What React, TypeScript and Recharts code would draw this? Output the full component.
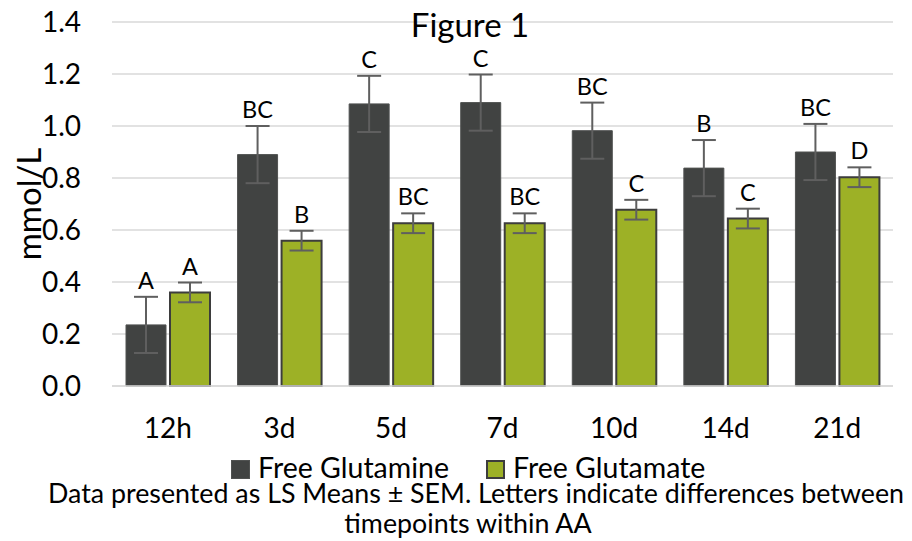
import React from "react";
import { BarChart, Bar, XAxis, YAxis, CartesianGrid, ErrorBar, LabelList } from "recharts";

const timepoints = ["12h", "3d", "5d", "7d", "10d", "14d", "21d"];
const glutamine = [0.235, 0.89, 1.085, 1.09, 0.982, 0.838, 0.9];
const glutamineSem = [0.108, 0.11, 0.108, 0.108, 0.108, 0.108, 0.108];
const glutamineLetters = ["A", "BC", "C", "C", "BC", "B", "BC"];
const glutamate = [0.36, 0.559, 0.626, 0.626, 0.678, 0.644, 0.803];
const glutamateSem = [0.038, 0.038, 0.038, 0.038, 0.038, 0.038, 0.038];
const glutamateLetters = ["A", "B", "BC", "BC", "C", "C", "D"];
const yTicks = [0, 0.2, 0.4, 0.6, 0.8, 1.0, 1.2, 1.4];

const FONT = "Lato, 'Open Sans', sans-serif";
const DARK = "#414342";
const GREEN = "#9db126";

const data = timepoints.map((t, i) => ({
  time: t,
  gln: glutamine[i],
  glnErr: glutamineSem[i],
  glnLetter: glutamineLetters[i],
  glu: glutamate[i],
  gluErr: glutamateSem[i],
  gluLetter: glutamateLetters[i],
}));

// letter sits just above the error bar cap
function letterLabel(values: number[], errors: number[]) {
  return (props: any) => {
    const { x, y, width, height, value, index } = props;
    const perUnit = Number(height) / values[index];
    const capY = Number(y) - errors[index] * perUnit;
    return (
      <text
        x={Number(x) + Number(width) / 2}
        y={capY - 8}
        textAnchor="middle"
        fontSize={23.5}
        fontFamily={FONT}
        fill="#000"
      >
        {value}
      </text>
    );
  };
}

export default function App() {
  return (
    <div style={{ position: "absolute", left: 0, top: 0, width: 912, height: 541, background: "#fff" }}>
      <BarChart
        width={912}
        height={541}
        data={data}
        margin={{ top: 22, right: 19, left: 0, bottom: 125 }}
        barSize={40}
        barGap={4}
      >
        <CartesianGrid vertical={false} stroke="#d9d9d9" strokeWidth={1.4} />
        <XAxis
          dataKey="time"
          tickLine={false}
          axisLine={{ stroke: "#d9d9d9", strokeWidth: 1.4 }}
          tick={{ fontSize: 28, fill: "#000", fontFamily: FONT }}
          tickMargin={26}
          height={30}
        />
        <YAxis
          domain={[0, 1.4]}
          ticks={yTicks}
          tickFormatter={(v: number) => v.toFixed(1)}
          tickLine={false}
          axisLine={false}
          tick={{ fontSize: 28, fill: "#000", fontFamily: FONT }}
          tickMargin={25}
          width={112}
        />
        <Bar dataKey="gln" fill={DARK} stroke="#505251" strokeWidth={1} isAnimationActive={false}>
          <ErrorBar dataKey="glnErr" width={12} stroke="#5f5f5f" strokeWidth={2} direction="y" />
          <LabelList dataKey="glnLetter" content={letterLabel(glutamine, glutamineSem)} />
        </Bar>
        <Bar dataKey="glu" fill={GREEN} stroke="#3d3d3d" strokeWidth={2} isAnimationActive={false}>
          <ErrorBar dataKey="gluErr" width={12} stroke="#5f5f5f" strokeWidth={2} direction="y" />
          <LabelList dataKey="gluLetter" content={letterLabel(glutamate, glutamateSem)} />
        </Bar>
      </BarChart>

      <svg
        width={912}
        height={541}
        style={{ position: "absolute", left: 0, top: 0, pointerEvents: "none" }}
        fontFamily={FONT}
        fill="#000"
      >
        <text x={470} y={37} textAnchor="middle" fontSize={33}>
          Figure 1
        </text>
        <text transform="translate(41,204) rotate(-90)" textAnchor="middle" fontSize={33}>
          mmol/L
        </text>

        <rect x={231.5} y={460.5} width={18} height={18} fill={DARK} stroke="#505251" strokeWidth={1} />
        <text x={258} y={478} fontSize={28.5}>
          Free Glutamine
        </text>
        <rect x={487} y={461} width={17} height={17} fill={GREEN} stroke="#3d3d3d" strokeWidth={2} />
        <text x={513} y={478} fontSize={28.5}>
          Free Glutamate
        </text>

        <text x={476} y={503} textAnchor="middle" fontSize={26.8}>
          Data presented as LS Means ± SEM. Letters indicate differences between
        </text>
        <text x={468} y={533} textAnchor="middle" fontSize={26.8}>
          timepoints within AA
        </text>
      </svg>
    </div>
  );
}
